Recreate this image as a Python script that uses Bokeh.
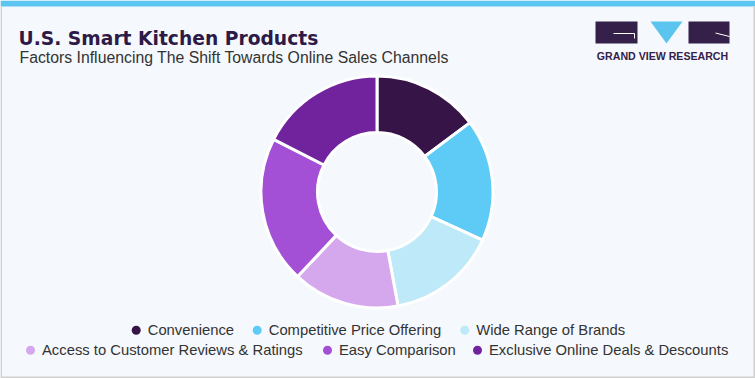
import numpy as np
from bokeh.plotting import figure
from bokeh.models import Range1d, ColumnDataSource
from bokeh.core.properties import value
from bokeh.embed import file_html
from bokeh.resources import INLINE

# ---- data ----
categories = ["Convenience", "Competitive Price Offering", "Wide Range of Brands",
              "Access to Customer Reviews & Ratings", "Easy Comparison",
              "Exclusive Online Deals & Descounts"]
shares = [14.8, 17.0, 15.3, 14.9, 20.5, 17.5]
colors = ["#371447", "#5DCBF5", "#BEE9F9", "#D5A8EE", "#A34FD6", "#71239E"]

title = "U.S. Smart Kitchen Products"
subtitle = "Factors Influencing The Shift Towards Online Sales Channels"

W, H = 755, 378
BG = "#F5F8FC"

def Y(ypix):
    return H - ypix

p = figure(width=W, height=H, output_backend="svg", toolbar_location=None,
           x_range=Range1d(0, W), y_range=Range1d(0, H), min_border=0,
           background_fill_color=BG, border_fill_color=BG, outline_line_color=None)
p.axis.visible = False
p.grid.visible = False

# frame: top bar and grey border
p.quad(left=[0], right=[W], top=[Y(0)], bottom=[Y(6)], fill_color="#5DC6F0", line_color=None)
p.quad(left=[0], right=[1.5], top=[Y(6)], bottom=[0], fill_color="#CFCFCF", line_color=None)
p.quad(left=[W - 2], right=[W], top=[Y(6)], bottom=[0], fill_color="#CFCFCF", line_color=None)
p.quad(left=[0], right=[W], top=[Y(376)], bottom=[0], fill_color="#CFCFCF", line_color=None)

# titles
p.text(x=[18], y=[Y(37.5)], text=[title], text_font=value("DejaVu Sans"),
       text_font_style="bold", text_font_size="18.7px", text_color="#2E1A47",
       text_baseline="alphabetic")
p.text(x=[19], y=[Y(57)], text=[subtitle], text_font=value("Liberation Sans"),
       text_font_size="15.8px", text_color="#333333", text_baseline="alphabetic")

# logo
logo_dark = "#35204A"
p.quad(left=[595, 688], right=[637, 729], top=[Y(21), Y(21)], bottom=[Y(43), Y(43)],
       fill_color=logo_dark, line_color=None)
p.patch(x=[650, 682, 666], y=[Y(21), Y(21), Y(43)], fill_color="#5BC5F0", line_color=None)
p.line(x=[613, 634, 634], y=[Y(33), Y(33), Y(38)], line_color="white", line_width=1)
p.line(x=[715, 729], y=[Y(32.5), Y(36)], line_color="white", line_width=1)
p.text(x=[662], y=[Y(55)], text=["GRAND VIEW RESEARCH"], text_font=value("Liberation Sans"),
       text_font_style="bold", text_font_size="10.6px", text_color=logo_dark,
       text_align="center", text_baseline="middle")

# donut
vals = np.array(shares, dtype=float)
frac = vals / vals.sum() * 2 * np.pi
cum_end = np.cumsum(frac)
cum_start = cum_end - frac
src = ColumnDataSource(dict(
    cat=categories, color=colors,
    start=np.pi / 2 - cum_end, end=np.pi / 2 - cum_start))
p.annular_wedge(x=376.5, y=Y(191.5), inner_radius=59.5, outer_radius=116,
                start_angle="start", end_angle="end", direction="anticlock",
                fill_color="color", line_color="white", line_width=3, source=src)

# legend (two centred rows)
dot_x = [135.7, 256.7, 464.3, 30, 327, 477]
dot_y = [329.7, 329.7, 329.7, 349.7, 349.7, 349.7]
p.scatter(x=dot_x, y=[Y(v) for v in dot_y], size=9, marker="circle",
          fill_color=colors, line_color=None)
p.text(x=[v + 11.5 for v in dot_x], y=[Y(v) for v in dot_y], text=categories,
       text_font=value("Liberation Sans"), text_font_size="14.8px", text_color="#333333",
       text_baseline="middle")

open("out.html", "w").write(file_html(p, INLINE))
